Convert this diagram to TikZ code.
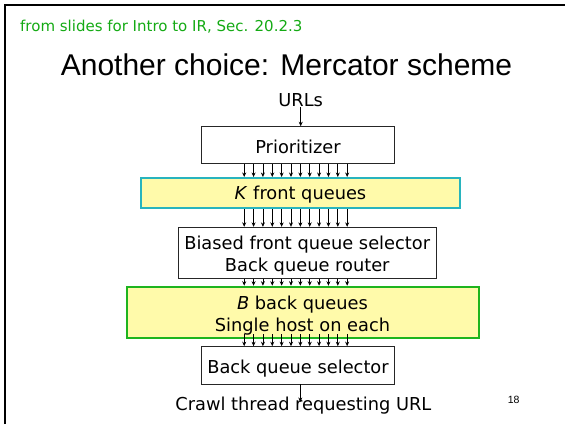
\documentclass[tikz,border=0pt]{standalone}
\usepackage{fontspec}
\setmainfont{DejaVu Sans}
\newfontfamily\titlefont{Liberation Sans}
\usetikzlibrary{arrows.meta,calc}
\definecolor{srcgreen}{RGB}{20,170,20}
\definecolor{qfill}{RGB}{255,250,170}
\definecolor{kline}{RGB}{40,180,190}
\definecolor{bline}{RGB}{30,180,30}
\begin{document}
\begin{tikzpicture}[x=1pt,y=-1pt,
  txt/.style={font=\fontsize{17.8}{22.4}\selectfont},
  box/.style={txt, draw=black!85, line width=0.9pt, inner sep=0pt, align=center},
  queue/.style={box, fill=qfill, line width=2pt},
  arr/.style={-{Stealth[length=4.5pt,width=4pt]}, line width=0.8pt},
]
\useasboundingbox (0,0) rectangle (565,424);
\draw[line width=2.2pt] (5,424) -- (5,5) -- (565,5);
\node[anchor=base west, text=srcgreen, font=\fontsize{15}{18}\selectfont, inner sep=0pt] (src) at (20,31.5) {from slides for Intro to IR, Sec. 20.2.3};
\node[anchor=base, font=\titlefont\fontsize{30}{36}\selectfont, inner sep=0pt] (title) at (286.5,75) {Another choice: Mercator scheme};
\node[txt, anchor=base, inner sep=1pt] (urls) at (300.7,106) {URLs};
\node[box, minimum width=192.3pt, minimum height=36.6pt] (prio) at (298,145) {\rule{0pt}{16.6pt}Prioritizer};
\node[queue, draw=kline, minimum width=319pt, minimum height=30pt] (kq) at (300.5,193) {\rule{0pt}{16.2pt}\textit{K} front queues};
\node[box, minimum width=257.7pt, minimum height=51pt] (fsel) at (307.2,252.8) {\rule{0pt}{19.5pt}Biased front queue selector\\Back queue router};
\node[queue, draw=bline, minimum width=352pt, minimum height=51.6pt] (bq) at (302.5,312.5) {\rule{0pt}{19.5pt}\textit{B} back queues\\Single host on each};
\node[box, minimum width=192.6pt, minimum height=37.3pt] (bsel) at (298,365.3) {\rule{0pt}{20.2pt}Back queue selector};
\node[txt, anchor=base, inner sep=0pt] (crawl) at (303.4,410) {Crawl thread requesting URL};
\node[font=\titlefont\fontsize{10.5}{12}\selectfont, inner sep=0pt] (pg) at (513.7,399.5) {18};
\coordinate (crawlend) at (300.3,402);
\draw[arr] (urls.south) -- (urls.south |- prio.north);
\foreach \i in {0,...,11} {
  \pgfmathsetmacro\x{244.2+9.36*\i}
  \draw[arr] (\x,0 |- prio.south) -- (\x,0 |- kq.north);
  \draw[arr] (\x,0 |- kq.south) -- (\x,0 |- fsel.north);
  \draw[arr] (\x,0 |- fsel.south) -- (\x,0 |- bq.north);
  \draw[arr] ($(\x,0 |- bq.south)+(0,-5)$) -- (\x,0 |- bsel.north);
}
\draw[arr] (crawlend |- bsel.south) -- (crawlend);
\end{tikzpicture}
\end{document}
